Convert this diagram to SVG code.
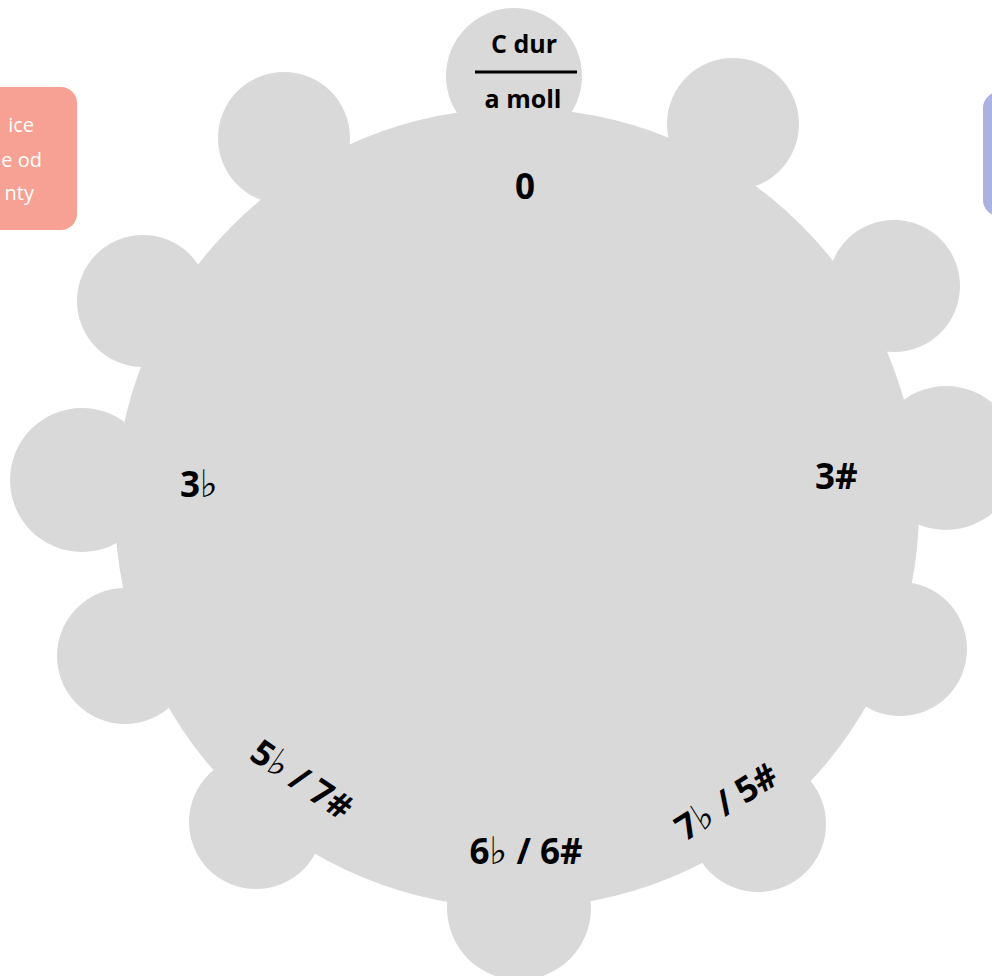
<svg xmlns="http://www.w3.org/2000/svg" width="992" height="976" viewBox="0 0 992 976">
<style>
.disc{fill:#d9d9d9}
.lbl{font-family:"Open Sans","Liberation Sans",sans-serif;font-weight:700;fill:#000}
.num{font-size:35px}
.key{font-size:25px}
.flat{font-family:"DejaVu Sans","Liberation Serif",serif;font-weight:400;font-size:38px}
.side{font-family:"Open Sans","Liberation Sans",sans-serif;font-size:20px;fill:#ffffff}
</style>
<rect width="992" height="976" fill="#ffffff"/>
<g id="legend-left">
<rect x="-30" y="87" width="107" height="143" rx="16" fill="#f6a193"/>
<text class="side" x="34" y="132" text-anchor="end">ice</text>
<text class="side" x="42" y="167" text-anchor="end">e od</text>
<text class="side" x="34" y="200" text-anchor="end">nty</text>
</g>
<g id="legend-right">
<rect x="983" y="92" width="60" height="124" rx="16" fill="#a9b2e1"/>
</g>
<g id="wheel">
<ellipse class="disc" cx="517" cy="508" rx="402" ry="400"/>
<circle class="disc" cx="514" cy="76" r="68"/>
<circle class="disc" cx="733" cy="124" r="66"/>
<circle class="disc" cx="894" cy="286" r="66"/>
<circle class="disc" cx="946" cy="458" r="72"/>
<circle class="disc" cx="900" cy="649" r="67"/>
<circle class="disc" cx="758" cy="824" r="68"/>
<circle class="disc" cx="519" cy="908" r="72"/>
<circle class="disc" cx="256" cy="822" r="67"/>
<circle class="disc" cx="125" cy="656" r="68"/>
<circle class="disc" cx="82" cy="480" r="72"/>
<circle class="disc" cx="143" cy="301" r="66"/>
<circle class="disc" cx="284" cy="138" r="66"/>
</g>
<g id="labels">
<text class="lbl key" x="524" y="53" text-anchor="middle">C dur</text>
<line x1="475" y1="72" x2="577" y2="72" stroke="#000" stroke-width="3"/>
<text class="lbl key" x="523" y="108" text-anchor="middle">a moll</text>
<text class="lbl num" x="525" y="199" text-anchor="middle">0</text>
<text class="lbl num" x="180" y="497">3<tspan class="flat">♭</tspan></text>
<text class="lbl num" x="815" y="489">3#</text>
<text class="lbl num" x="526" y="864" text-anchor="middle">6<tspan class="flat">♭</tspan> / 6#</text>
<text class="lbl num" transform="translate(295,790) rotate(34)" text-anchor="middle">5<tspan class="flat">♭</tspan> / 7#</text>
<text class="lbl num" transform="translate(733,812) rotate(-32)" text-anchor="middle">7<tspan class="flat">♭</tspan> / 5#</text>
</g>
</svg>
